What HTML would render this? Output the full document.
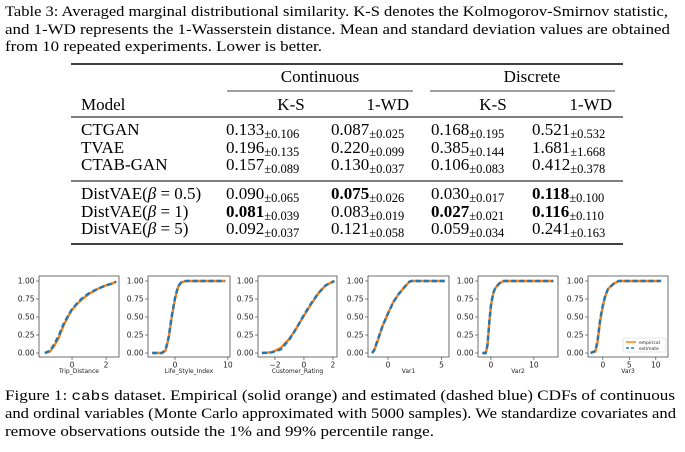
<!DOCTYPE html>
<html><head><meta charset="utf-8"><style>
html,body{margin:0;padding:0;background:#fff;}
svg{display:block;}
</style></head><body>
<svg id="page" width="685" height="452" viewBox="0 0 685 452" xmlns="http://www.w3.org/2000/svg">
<g font-family="'Liberation Serif', 'Times New Roman', serif" font-size="15" fill="#000">
<text x="5" y="16" textLength="663" lengthAdjust="spacingAndGlyphs">Table 3: Averaged marginal distributional similarity. K-S denotes the Kolmogorov-Smirnov statistic,</text>
<text x="5" y="34" textLength="665" lengthAdjust="spacingAndGlyphs">and 1-WD represents the 1-Wasserstein distance. Mean and standard deviation values are obtained</text>
<text x="5" y="51" textLength="317" lengthAdjust="spacingAndGlyphs">from 10 repeated experiments. Lower is better.</text>
</g>
<g font-family="'Liberation Serif', 'Times New Roman', serif" font-size="17">
<line x1="71" x2="623" y1="64" y2="64" stroke="#000" stroke-width="1.4"/>
<line x1="227" x2="413" y1="91" y2="91" stroke="#000" stroke-width="0.8"/>
<line x1="430" x2="615" y1="91" y2="91" stroke="#000" stroke-width="0.8"/>
<line x1="71" x2="623" y1="117" y2="117" stroke="#000" stroke-width="0.9"/>
<line x1="71" x2="623" y1="181" y2="181" stroke="#000" stroke-width="0.9"/>
<line x1="71" x2="623" y1="244" y2="244" stroke="#000" stroke-width="1.4"/>
<text x="320" y="82" text-anchor="middle">Continuous</text>
<text x="532" y="82" text-anchor="middle">Discrete</text>
<text x="81" y="110">Model</text>
<text x="291" y="110" text-anchor="middle">K-S</text>
<text x="409" y="110" text-anchor="end">1-WD</text>
<text x="493" y="110" text-anchor="middle">K-S</text>
<text x="612" y="110" text-anchor="end">1-WD</text>
<g id="rows"></g>
</g>
<g id="charts" font-family="'DejaVu Sans', 'Liberation Sans', sans-serif"></g>
<g font-family="'Liberation Serif', 'Times New Roman', serif" font-size="15" fill="#000">
<text x="5" y="400" textLength="670" lengthAdjust="spacingAndGlyphs">Figure 1: <tspan font-family="'Liberation Mono', monospace" font-size="14">cabs</tspan> dataset. Empirical (solid orange) and estimated (dashed blue) CDFs of continuous</text>
<text x="5" y="418" textLength="671" lengthAdjust="spacingAndGlyphs">and ordinal variables (Monte Carlo approximated with 5000 samples). We standardize covariates and</text>
<text x="5" y="436" textLength="429" lengthAdjust="spacingAndGlyphs">remove observations outside the 1% and 99% percentile range.</text>
</g>
</svg>
<script>
const NS='http://www.w3.org/2000/svg';
// table data
const models=['CTGAN','TVAE','CTAB-GAN','DistVAE(0.5)','DistVAE(1)','DistVAE(5)'];
const tableVals=[
 [['0.133','0.106',0],['0.087','0.025',0],['0.168','0.195',0],['0.521','0.532',0]],
 [['0.196','0.135',0],['0.220','0.099',0],['0.385','0.144',0],['1.681','1.668',0]],
 [['0.157','0.089',0],['0.130','0.037',0],['0.106','0.083',0],['0.412','0.378',0]],
 [['0.090','0.065',0],['0.075','0.026',1],['0.030','0.017',0],['0.118','0.100',1]],
 [['0.081','0.039',1],['0.083','0.019',0],['0.027','0.021',1],['0.116','0.110',1]],
 [['0.092','0.037',0],['0.121','0.058',0],['0.059','0.034',0],['0.241','0.163',0]]];
const rowY=[135,153,170,199,217,234];
const colX=[226,331,431,532];
const rows=document.getElementById('rows');
function mk(tag,attrs,parent){const e=document.createElementNS(NS,tag);for(const k in attrs)e.setAttribute(k,attrs[k]);parent.appendChild(e);return e;}
models.forEach((m,i)=>{
 const t=mk('text',{x:81,y:rowY[i]},rows);
 
 
 const mm=m.match(/DistVAE\((.*)\)/);
 if(mm){t.appendChild(document.createTextNode('DistVAE('));const b=mk('tspan',{'font-style':'italic'},t);b.textContent='β';t.appendChild(document.createTextNode(' = '+mm[1]+')'));}
 else t.textContent=m;
 tableVals[i].forEach((v,j)=>{
  const c=mk('text',{x:colX[j],y:rowY[i]},rows);
  
  
  const a=mk('tspan',{'font-weight':v[2]?'bold':'normal'},c);a.textContent=v[0];
  const s=mk('tspan',{'font-size':'12.5',dy:'3'},c);s.textContent='±'+v[1];
 });
});
// chart data
const names=['Trip_Distance','Life_Style_Index','Customer_Rating','Var1','Var2','Var3'];
const xlims=[[-1.94,2.76],[-5.1,10.4],[-3.17,2.28],[-1.87,5.7],[-3,15.6],[-2.8,12.3]];
const xticks=[[0,2],[0,10],[-2,0,2],[0,5],[0,10],[0,5,10]];
const empX=[[-1.6,-1.3,-1.1,-0.8,-0.5,-0.2,0,0.3,0.6,1.0,1.5,2.0,2.3,2.6],
 [-4.3,-2.5,-1.8,-1.2,-0.6,0,0.6,1.2,2,9.5],
 [-2.9,-2.2,-1.6,-1,-0.5,0,0.5,1,1.5,2.1],
 [-1.5,-1.3,-0.9,-0.5,0,0.5,1,1.5,2,2.2,5.3],
 [-2,-1.2,-0.8,-0.4,0,0.5,1,2,3,14.5],
 [-2.3,-1.4,-1,-0.5,0,0.5,1,2,3,11]];
const empY=[[0,0.02,0.08,0.2,0.38,0.52,0.6,0.68,0.75,0.82,0.89,0.94,0.96,0.99],
 [0,0,0.03,0.2,0.5,0.75,0.92,0.98,1,1],
 [0,0.01,0.07,0.2,0.35,0.52,0.68,0.83,0.94,1],
 [0,0.03,0.2,0.38,0.55,0.71,0.82,0.91,0.99,1,1],
 [0,0,0.1,0.4,0.65,0.82,0.9,0.97,1,1],
 [0,0.02,0.15,0.45,0.65,0.8,0.89,0.96,1,1]];
const estY=[[0,0.03,0.1,0.23,0.4,0.53,0.61,0.69,0.76,0.83,0.89,0.94,0.96,0.99],
 [0,0,0.04,0.22,0.52,0.77,0.93,0.98,1,1],
 [0,0.01,0.05,0.19,0.35,0.53,0.69,0.83,0.94,1],
 [0,0.04,0.21,0.38,0.55,0.71,0.82,0.91,0.99,1,1],
 [0,0,0.12,0.42,0.66,0.83,0.9,0.97,1,1],
 [0,0.03,0.17,0.47,0.66,0.81,0.89,0.96,1,1]];
const yticks=[0,0.25,0.5,0.75,1];
const frames=[[39,119],[148,230],[258,337],[368,449],[478,558],[588,668]];
const frameTop=276,frameBot=357,yZero=353,yOne=281;
const charts=document.getElementById('charts');
names.forEach((n,i)=>{
 const g=mk('g',{},charts);
 
 
 const L=frames[i][0],R=frames[i][1],a=xlims[i][0],b=xlims[i][1];
 const sx=x=>L+(x-a)/(b-a)*(R-L), sy=y=>yZero+(yOne-yZero)*y;
 yticks.forEach(v=>{
  mk('line',{x1:L-3,x2:L,y1:sy(v),y2:sy(v),stroke:'#333','stroke-width':0.6},g);
  const t=mk('text',{x:L-4.5,y:sy(v)+2.7,'font-size':7.5,'text-anchor':'end',fill:'#222'},g);
  
  
  t.textContent=v.toFixed(2);
 });
 xticks[i].forEach(v=>{
  mk('line',{x1:sx(v),x2:sx(v),y1:frameBot,y2:frameBot+3,stroke:'#333','stroke-width':0.6},g);
  const t=mk('text',{x:sx(v),y:frameBot+10.5,'font-size':7.5,'text-anchor':'middle',fill:'#222'},g);
  
  
  t.textContent=v<0?'−'+(-v):String(v);
 });
 const xl=mk('text',{x:(L+R)/2,y:373,'font-size':6,'text-anchor':'middle',fill:'#222'},g);
 
 
 xl.textContent=n;
 const pe=empX[i].map((x,k)=>sx(x).toFixed(1)+','+sy(empY[i][k]).toFixed(1)).join(' ');
 const pb=empX[i].map((x,k)=>sx(x).toFixed(1)+','+sy(estY[i][k]).toFixed(1)).join(' ');
 const l1=mk('polyline',{points:pe,fill:'none',stroke:'#ff7f0e','stroke-width':2.4,'stroke-linejoin':'round'},g);
 
 
 const l2=mk('polyline',{points:pb,fill:'none',stroke:'#1f77b4','stroke-width':2.4,'stroke-dasharray':'5,3'},g);
 
 
 const fr=mk('rect',{x:L,y:frameTop,width:R-L,height:frameBot-frameTop,fill:'none',stroke:'#333','stroke-width':0.7},g);
 
 
 if(i===5){
  const lg=mk('g',{},g);
  
  
  mk('rect',{x:623,y:338,width:43,height:14,fill:'#fff',stroke:'#ccc','stroke-width':0.5,rx:1},lg);
  mk('line',{x1:626,x2:636,y1:342,y2:342,stroke:'#ff7f0e','stroke-width':1.5},lg);
  mk('line',{x1:626,x2:636,y1:348,y2:348,stroke:'#1f77b4','stroke-width':1.5,'stroke-dasharray':'3,2'},lg);
  const t1=mk('text',{x:639,y:344,'font-size':4.5,fill:'#222'},lg);
  
  
  t1.textContent='empirical';
  const t2=mk('text',{x:639,y:350,'font-size':4.5,fill:'#222'},lg);
  
  
  t2.textContent='estimate';
 }
});
</script>
</body></html>
